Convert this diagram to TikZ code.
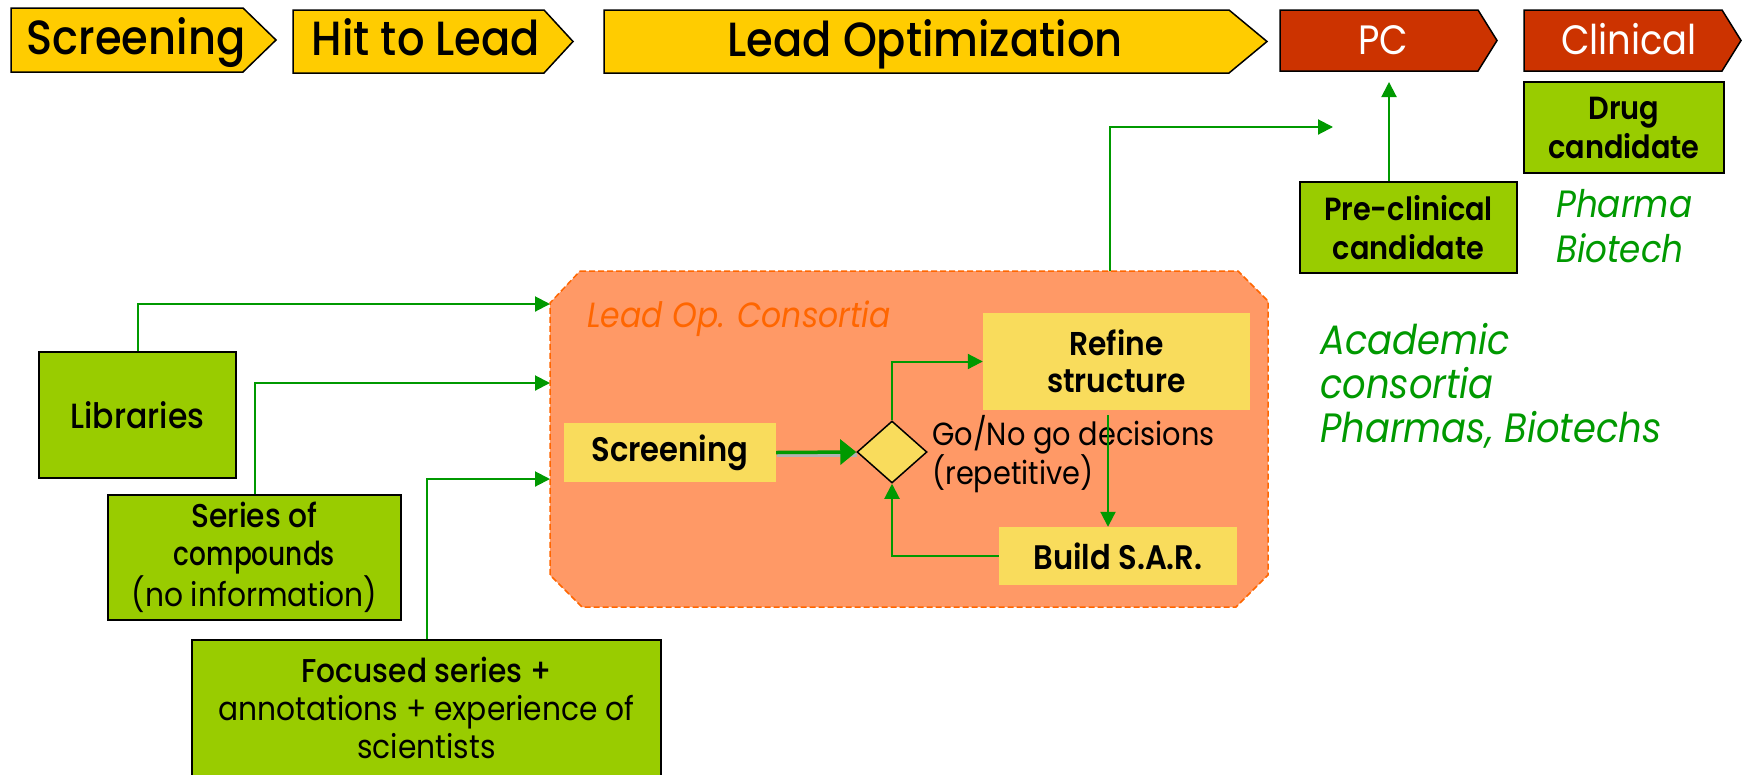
\documentclass[tikz,border=0pt]{standalone}
\usepackage{fontspec}
\setmainfont{Poppins}[FakeStretch=0.9]
\newfontfamily\med{Poppins Medium}[FakeStretch=0.9]
\newfontfamily\medn{Poppins Medium}[FakeStretch=0.8]
\newfontfamily\semi{Poppins SemiBold}[FakeStretch=0.9]
\usetikzlibrary{arrows.meta,shapes.geometric}
\definecolor{phaseyellow}{HTML}{FFCC00}
\definecolor{phasered}{HTML}{CC3300}
\definecolor{limegreen}{HTML}{99CC00}
\definecolor{boxyellow}{HTML}{F9DC5C}
\definecolor{consfill}{HTML}{FF9966}
\definecolor{consdraw}{HTML}{FF6600}
\definecolor{linegreen}{HTML}{009900}
\newcommand\fz[2]{\fontsize{#1}{#2}\selectfont}
\tikzset{
  phaseY/.style={draw=black, line width=1.5pt, fill=phaseyellow},
  phaseR/.style={draw=black, line width=1.5pt, fill=phasered},
  phasetxt/.style={anchor=base, inner sep=0, font=\med\fz{48}{54}},
  redtxt/.style={anchor=base, inner sep=0, text=white, font=\fz{41}{47}},
  gbox/.style={draw=black, line width=2pt, fill=limegreen, inner sep=0, align=center},
  ybox/.style={fill=boxyellow, inner sep=0, align=center, font=\semi\fz{34}{37}},
  conn/.style={draw=linegreen, line width=2pt, -{Triangle[length=15pt,width=15pt]}},
  bigconn/.style={draw=linegreen, line width=3.5pt, -{Triangle[length=16pt,width=25pt]}},
  greentxt/.style={text=linegreen, inner sep=0, align=left, anchor=west, font=\itshape\fz{38}{45}},
}
\begin{document}
\begin{tikzpicture}[x=1pt,y=-1pt]
\useasboundingbox (0,0) rectangle (1742,774);
\fill[white] (0,0) rectangle (1742,774);

% phase banner
\draw[phaseY] (11,8) -- (243,8) -- (276,40) -- (243,72) -- (11,72) -- cycle;
\node[phasetxt] (ph1) at (136,54) {Screening};
\draw[phaseY] (293,10) -- (544,10) -- (573,41.5) -- (544,73) -- (293,73) -- cycle;
\node[phasetxt] (ph2) at (426,55) {Hit to Lead};
\draw[phaseY] (604,10) -- (1229,10) -- (1267,41.5) -- (1229,73) -- (604,73) -- cycle;
\node[phasetxt] (ph3) at (925,56) {Lead Optimization};
\draw[phaseR] (1280,10) -- (1478,10) -- (1497,40.5) -- (1478,71) -- (1280,71) -- cycle;
\node[redtxt] (pc) at (1383,54) {PC};
\draw[phaseR] (1524,10) -- (1722,10) -- (1741,40.5) -- (1722,71) -- (1524,71) -- cycle;
\node[redtxt] (clin) at (1629,54) {Clinical};

% consortium area
\node[minimum width=718, minimum height=336, inner sep=0] (cons) at (909,439) {};
\draw[fill=consfill, draw=consdraw, line width=1.5pt, dash pattern=on 6pt off 3pt]
  (580,271) -- (1238,271) -- (1268,301) -- (1268,575) -- (1236,607) -- (582,607)
  -- (550,575) -- (550,303) -- cycle;
\node[anchor=base west, inner sep=0, text=consdraw, font=\itshape\fz{35}{40}] (constitle) at (587,327) {Lead Op. Consortia};

\node[ybox, minimum width=212, minimum height=59] (scr) at (670,452.5) {Screening};
\node[ybox, minimum width=267, minimum height=97, font=\semi\fz{33}{37}] (ref) at (1116.5,361.5) {Refine\\structure};
\node[ybox, minimum width=238, minimum height=58] (build) at (1118,556) {Build S.A.R.};
\node[diamond, draw=black, line width=1.5pt, fill=boxyellow, minimum width=70, minimum height=62, inner sep=0] (dec) at (892,452) {};
\node[anchor=west, inner sep=0, align=left, font=\fz{32}{37}] (godec) at (932,454) {Go/No go decisions\\(repetitive)};

\draw[gray!60, line width=3.5pt] (777,455) -- (857,455);
\draw[bigconn] (scr.east) -- (dec.west);
\draw[conn] (dec.north) |- (ref.west);
\coordinate (rb) at (1108,0);
\draw[conn] (ref.south -| rb) ++(0,5) -- (build.north -| rb);
\draw[conn] (build.west) -| (dec.south);

% inputs
\node[gbox, minimum width=197, minimum height=126, font=\med\fz{35}{40}] (lib) at (137.5,415) {Libraries};
\node[gbox, minimum width=293, minimum height=125, font=\fz{33}{38}] (ser) at (254.5,557.5) {{\med Series of}\\{\medn compounds}\\(no information)};
\node[gbox, minimum width=469, minimum height=136, font=\fz{33}{38}] (foc) at (426.5,708) {{\med Focused series +}\\annotations + experience of\\scientists};

\coordinate (inA) at (550,304);
\coordinate (inB) at (550,383);
\coordinate (inC) at (550,479);
\draw[conn] (lib.north) |- (inA);
\draw[conn] (ser.north) |- (inB);
\draw[conn] (foc.north) |- (inC);

% outputs
\node[gbox, minimum width=217, minimum height=91, font=\semi\fz{32}{39}] (pre) at (1408.5,227.5) {Pre-clinical\\candidate};
\node[gbox, minimum width=200, minimum height=91, font=\semi\fz{32}{39}] (drug) at (1624,127.5) {Drug\\candidate};

\coordinate (upTurn) at (1110,127);
\coordinate (pcIn) at (1333,127);
\coordinate (pcBottom) at (1389,82);
\draw[conn] (cons.north -| upTurn) -- (upTurn) -- (pcIn);
\draw[conn] (pre.north -| pcBottom) -- (pcBottom);

\node[greentxt] (pharma) at (1556,226) {Pharma\\Biotech};
\node[greentxt, font=\itshape\fz{41}{44}] (acad) at (1320,386) {Academic\\consortia\\Pharmas, Biotechs};
\end{tikzpicture}
\end{document}
